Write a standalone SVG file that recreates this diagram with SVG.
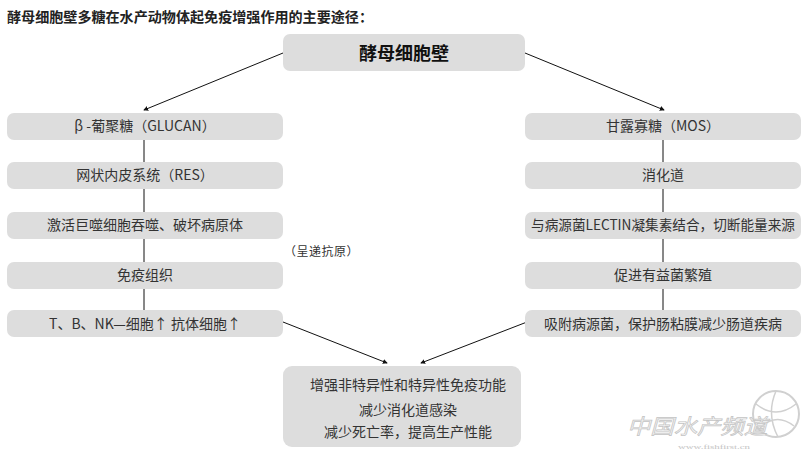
<svg xmlns="http://www.w3.org/2000/svg" width="803" height="455" viewBox="0 0 803 455">
<defs>
<style>
.box{fill:#dddddd;}
.t{font-family:"Noto Sans CJK SC","Liberation Sans",sans-serif;font-size:14px;fill:#333333;text-anchor:middle;}
.c{stroke:#111111;stroke-width:1;fill:none;}
.wm{font-family:"Noto Sans CJK SC",sans-serif;fill:#f4f4f4;stroke:#c4c4c4;stroke-width:0.7;font-style:italic;}
</style>
<marker id="ah" viewBox="0 0 6 6" refX="5" refY="3" markerWidth="5" markerHeight="5" orient="auto" markerUnits="userSpaceOnUse">
<path d="M0,0 L6,3 L0,6 z" fill="#111111"/>
</marker>
</defs>
<rect width="803" height="455" fill="#ffffff"/>
<text x="7" y="22" font-family="Noto Sans CJK SC,sans-serif" font-size="14" font-weight="bold" fill="#222222" textLength="366" lengthAdjust="spacingAndGlyphs">酵母细胞壁多糖在水产动物体起免疫增强作用的主要途径：</text>

<g id="connectors">
<line class="c" x1="283" y1="53" x2="144" y2="110" marker-end="url(#ah)"/>
<line class="c" x1="525" y1="53" x2="664" y2="110" marker-end="url(#ah)"/>
<line class="c" x1="144" y1="139" x2="144" y2="162"/>
<line class="c" x1="144" y1="189" x2="144" y2="212"/>
<line class="c" x1="144" y1="239" x2="144" y2="262"/>
<line class="c" x1="144" y1="289" x2="144" y2="310"/>
<line class="c" x1="663" y1="139" x2="663" y2="162"/>
<line class="c" x1="663" y1="189" x2="663" y2="212"/>
<line class="c" x1="663" y1="239" x2="663" y2="262"/>
<line class="c" x1="663" y1="289" x2="663" y2="310"/>
<line class="c" x1="283" y1="322" x2="387" y2="363" marker-end="url(#ah)"/>
<line class="c" x1="527" y1="322" x2="421" y2="363" marker-end="url(#ah)"/>
</g>

<g id="root">
<rect class="box" x="283" y="34" width="242" height="37" rx="7"/>
<text x="404" y="60" font-family="Noto Sans CJK SC,sans-serif" font-size="18" font-weight="bold" fill="#111111" text-anchor="middle">酵母细胞壁</text>
</g>

<g id="glucan"><rect class="box" x="7" y="113" width="276" height="27" rx="7"/><text class="t" x="145" y="131">β -葡聚糖（GLUCAN）</text></g>
<g id="res"><rect class="box" x="7" y="162" width="276" height="27" rx="7"/><text class="t" x="145" y="180">网状内皮系统（RES）</text></g>
<g id="macrophage"><rect class="box" x="7" y="212" width="276" height="27" rx="7"/><text class="t" x="145" y="230">激活巨噬细胞吞噬、破坏病原体</text></g>
<g id="immune-tissue"><rect class="box" x="7" y="262" width="276" height="27" rx="7"/><text class="t" x="145" y="280">免疫组织</text></g>
<g id="cells"><rect class="box" x="7" y="310" width="276" height="27" rx="7"/><text class="t" x="145" y="329">T、B、NK—细胞↑  抗体细胞↑</text></g>

<text x="284" y="256" font-family="Noto Sans CJK SC,sans-serif" font-size="12" fill="#333333" letter-spacing="0.5">（呈递抗原）</text>

<g id="mos"><rect class="box" x="525" y="113" width="276" height="27" rx="7"/><text class="t" x="663" y="131">甘露寡糖（MOS）</text></g>
<g id="gut"><rect class="box" x="525" y="162" width="276" height="27" rx="7"/><text class="t" x="663" y="180">消化道</text></g>
<g id="lectin"><rect class="box" x="525" y="212" width="276" height="27" rx="7"/><text class="t" x="663" y="230" textLength="264" lengthAdjust="spacingAndGlyphs">与病源菌LECTIN凝集素结合，切断能量来源</text></g>
<g id="probiotic"><rect class="box" x="525" y="262" width="276" height="27" rx="7"/><text class="t" x="663" y="280">促进有益菌繁殖</text></g>
<g id="adsorb"><rect class="box" x="525" y="310" width="276" height="27" rx="7"/><text class="t" x="663" y="329">吸附病源菌，保护肠粘膜减少肠道疾病</text></g>

<g id="result">
<rect class="box" x="283" y="366" width="238" height="81" rx="9"/>
<text class="t" x="408" y="390">增强非特异性和特异性免疫功能</text>
<text class="t" x="408" y="415">减少消化道感染</text>
<text class="t" x="408" y="437">减少死亡率，提高生产性能</text>
</g>

<g id="watermark">
<circle cx="776" cy="414" r="23" fill="none" stroke="#d0d0d0" stroke-width="2"/>
<path d="M756,404 Q776,420 796,404 M760,428 Q776,412 794,426 M776,391 Q766,414 778,437" fill="none" stroke="#d0d0d0" stroke-width="1.5"/>
<text class="wm" x="627" y="434" font-size="21" textLength="140" lengthAdjust="spacingAndGlyphs">中国水产频道</text>
<text x="678" y="449" font-family="Liberation Serif,serif" font-size="7" fill="#c4c4c4" textLength="72" lengthAdjust="spacingAndGlyphs">www.fishfirst.cn</text>
</g>
</svg>
